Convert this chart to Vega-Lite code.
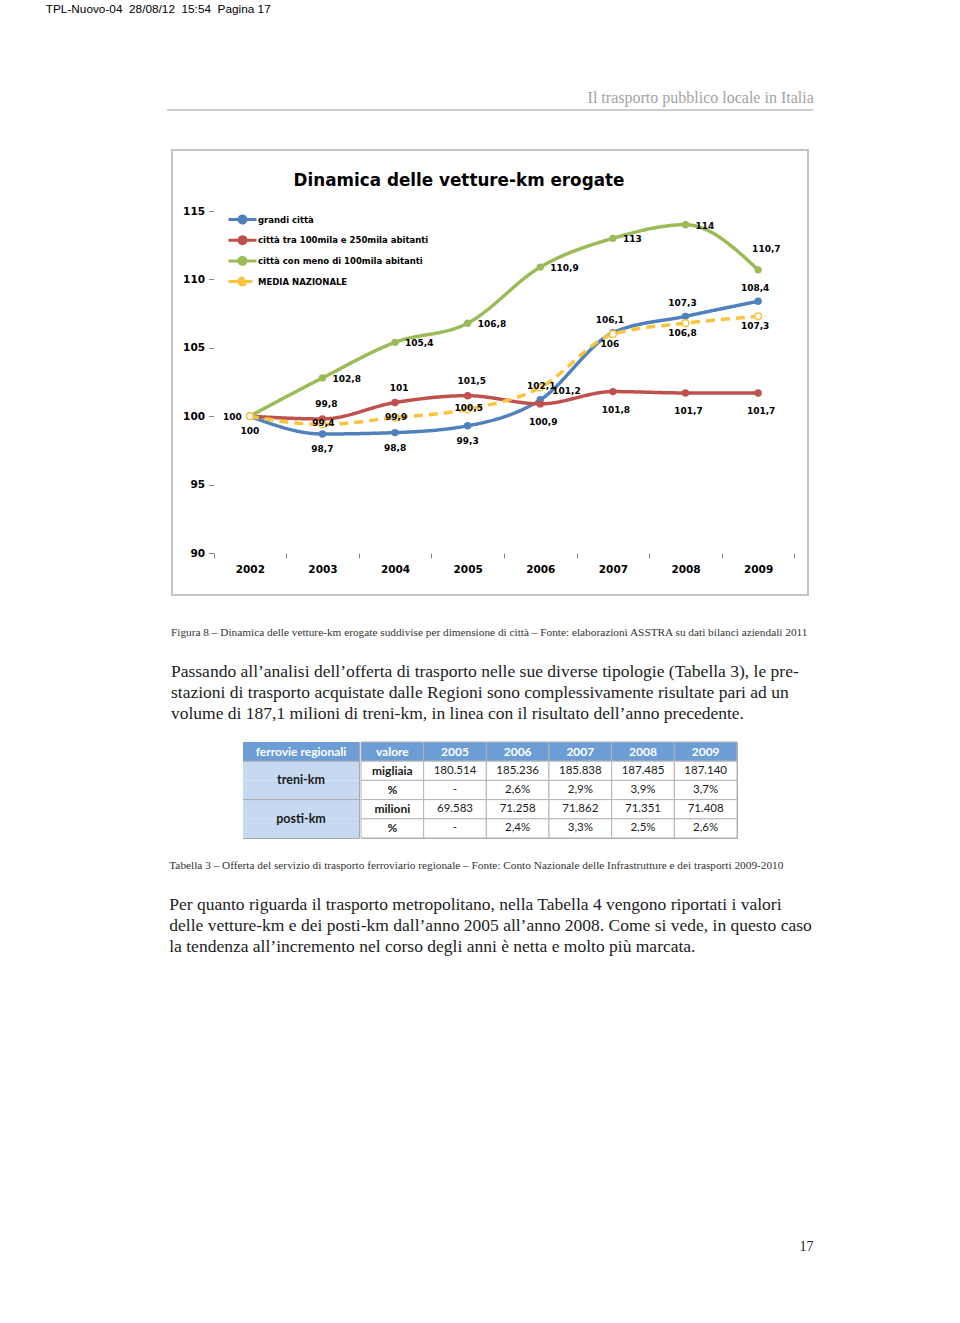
{
  "$schema": "https://vega.github.io/schema/vega-lite/v6.json",
  "background": "white",
  "padding": {"left": 45, "top": 3, "right": 0, "bottom": 0},
  "title": {"text": "TPL-Nuovo-04\u00a0\u00a028/08/12\u00a0\u00a015:54\u00a0\u00a0Pagina 17", "anchor": "start", "dx": -121, "offset": 74, "font": "Liberation Sans", "fontSize": 11.8, "fontWeight": "normal", "color": "#000000"},
  "spacing": 18,
  "center": true,
  "vconcat": [
    {
      "width": 646,
      "height": 21,
      "title": {"text": "Il trasporto pubblico locale in Italia", "orient": "top", "anchor": "end", "offset": 4, "font": "Liberation Serif", "fontSize": 16, "fontWeight": "normal", "color": "#a3a3a3"},
      "data": {"values": [{}]},
      "mark": {"type": "rule", "color": "#9a9a9a", "strokeWidth": 1},
      "encoding": {"y": {"datum": 1, "type": "quantitative", "scale": {"domain": [0, 1]}, "axis": null}}
    },
    {
      "title": {
        "text": "Figura 8 – Dinamica delle vetture-km erogate suddivise per dimensione di città – Fonte: elaborazioni ASSTRA su dati bilanci aziendali 2011",
        "subtitle": [
          "Passando all’analisi dell’offerta di trasporto nelle sue diverse tipologie (Tabella 3), le pre-",
          "stazioni di trasporto acquistate dalle Regioni sono complessivamente risultate pari ad un",
          "volume di 187,1 milioni di treni-km, in linea con il risultato dell’anno precedente."
        ],
        "orient": "bottom", "anchor": "start", "offset": 30.5,
        "font": "Liberation Serif", "fontSize": 11.3, "fontWeight": "normal", "color": "#333333",
        "subtitleFont": "Liberation Serif", "subtitleFontSize": 17.5, "subtitleColor": "#222222", "subtitleLineHeight": 21, "subtitlePadding": 25
      },
      "vconcat": [
        {
          "width": 636,
          "height": 445,
          "view": {"stroke": "#c4c4c4", "strokeWidth": 2},
          "title": {"text": "Dinamica delle vetture-km erogate", "orient": "top", "anchor": "middle", "offset": -40, "dx": -31, "font": "DejaVu Sans", "fontSize": 16.8, "fontWeight": "bold", "color": "#000000"},
          "data": {"values": [
            {"year": 2002, "series": "grandi città", "value": 100},
            {"year": 2003, "series": "grandi città", "value": 98.7},
            {"year": 2004, "series": "grandi città", "value": 98.8},
            {"year": 2005, "series": "grandi città", "value": 99.3},
            {"year": 2006, "series": "grandi città", "value": 101.2},
            {"year": 2007, "series": "grandi città", "value": 106.1},
            {"year": 2008, "series": "grandi città", "value": 107.3},
            {"year": 2009, "series": "grandi città", "value": 108.4},
            {"year": 2002, "series": "città tra 100mila e 250mila abitanti", "value": 100},
            {"year": 2003, "series": "città tra 100mila e 250mila abitanti", "value": 99.8},
            {"year": 2004, "series": "città tra 100mila e 250mila abitanti", "value": 101},
            {"year": 2005, "series": "città tra 100mila e 250mila abitanti", "value": 101.5},
            {"year": 2006, "series": "città tra 100mila e 250mila abitanti", "value": 100.9},
            {"year": 2007, "series": "città tra 100mila e 250mila abitanti", "value": 101.8},
            {"year": 2008, "series": "città tra 100mila e 250mila abitanti", "value": 101.7},
            {"year": 2009, "series": "città tra 100mila e 250mila abitanti", "value": 101.7},
            {"year": 2002, "series": "città con meno di 100mila abitanti", "value": 100},
            {"year": 2003, "series": "città con meno di 100mila abitanti", "value": 102.8},
            {"year": 2004, "series": "città con meno di 100mila abitanti", "value": 105.4},
            {"year": 2005, "series": "città con meno di 100mila abitanti", "value": 106.8},
            {"year": 2006, "series": "città con meno di 100mila abitanti", "value": 110.9},
            {"year": 2007, "series": "città con meno di 100mila abitanti", "value": 113},
            {"year": 2008, "series": "città con meno di 100mila abitanti", "value": 114},
            {"year": 2009, "series": "città con meno di 100mila abitanti", "value": 110.7},
            {"year": 2002, "series": "MEDIA NAZIONALE", "value": 100},
            {"year": 2003, "series": "MEDIA NAZIONALE", "value": 99.4},
            {"year": 2004, "series": "MEDIA NAZIONALE", "value": 99.9},
            {"year": 2005, "series": "MEDIA NAZIONALE", "value": 100.5},
            {"year": 2006, "series": "MEDIA NAZIONALE", "value": 102.1},
            {"year": 2007, "series": "MEDIA NAZIONALE", "value": 106},
            {"year": 2008, "series": "MEDIA NAZIONALE", "value": 106.8},
            {"year": 2009, "series": "MEDIA NAZIONALE", "value": 107.3}
          ]},
          "encoding": {
            "x": {"field": "year", "type": "quantitative", "scale": {"domain": [2000.928, 2009.687], "nice": false, "zero": false},
              "axis": {"title": null, "values": [2001.5, 2002.5, 2003.5, 2004.5, 2005.5, 2006.5, 2007.5, 2008.5, 2009.5], "labelExpr": "datum.value > 2009 ? '' : format(datum.value + 0.5, 'd')", "labelOffset": {"condition": {"test": "datum.value > 2009", "value": 0}, "value": 36.3}, "offset": -42, "domain": false, "grid": false, "tickSize": 5, "tickColor": "#888888", "labelPadding": 6, "labelFont": "DejaVu Sans", "labelFontWeight": "bold", "labelFontSize": 10.5, "labelColor": "#000000", "labelBound": false, "labelFlush": false, "labelOverlap": false}},
            "y": {"field": "value", "type": "quantitative", "scale": {"domain": [86.93, 119.46], "nice": false, "zero": false},
              "axis": {"title": null, "values": [90, 95, 100, 105, 110, 115], "offset": -41.5, "domain": false, "grid": false, "tickSize": 5, "tickColor": "#888888", "labelPadding": 4, "labelFont": "DejaVu Sans", "labelFontWeight": "bold", "labelFontSize": 10.5, "labelColor": "#000000"}}
          },
          "layer": [
            {"data": {"values": [{}]}, "mark": {"type": "rule", "color": "#888888", "strokeWidth": 1},
              "encoding": {"x": {"datum": 2001.5, "type": "quantitative"}, "y": {"datum": 90, "type": "quantitative"}, "y2": {"datum": 115}}},
            {"data": {"values": [{}]}, "mark": {"type": "rule", "color": "#888888", "strokeWidth": 1},
              "encoding": {"y": {"datum": 90, "type": "quantitative"}, "x": {"datum": 2001.5, "type": "quantitative"}, "x2": {"datum": 2009.5}}},
            {"mark": {"type": "line", "interpolate": "monotone", "strokeWidth": 3.5},
              "encoding": {
                "color": {"field": "series", "type": "nominal",
                  "scale": {"domain": ["grandi città", "città tra 100mila e 250mila abitanti", "città con meno di 100mila abitanti", "MEDIA NAZIONALE"], "range": ["#4f81bd", "#c0504d", "#9bbb59", "#fac33c"]},
                  "legend": {"orient": "none", "legendX": 67, "legendY": 101, "title": null, "symbolType": "M-2,0L2,0M-0.5,0a0.5,0.5 0 1,0 1,0a0.5,0.5 0 1,0 -1,0", "symbolSize": 196, "symbolStrokeWidth": 3, "labelFont": "DejaVu Sans", "labelFontWeight": "bold", "labelFontSize": 8.5, "labelColor": "#000000", "labelOffset": 7, "rowPadding": 1.7, "labelLimit": 300,
                    "encode": {"symbols": {"update": {"fill": {"signal": "datum.value === 'MEDIA NAZIONALE' ? '#ffffff' : scale('color', datum.value)"}}}}},
                  "sort": null},
                "strokeDash": {"field": "series", "type": "nominal",
                  "scale": {"domain": ["grandi città", "città tra 100mila e 250mila abitanti", "città con meno di 100mila abitanti", "MEDIA NAZIONALE"], "range": [[1, 0], [1, 0], [1, 0], [9, 6]]},
                  "legend": {"orient": "none", "legendX": 67, "legendY": 101, "title": null, "symbolType": "M-2,0L2,0M-0.5,0a0.5,0.5 0 1,0 1,0a0.5,0.5 0 1,0 -1,0", "symbolSize": 196, "symbolStrokeWidth": 3, "labelFont": "DejaVu Sans", "labelFontWeight": "bold", "labelFontSize": 8.5, "labelColor": "#000000", "labelOffset": 7, "rowPadding": 1.7, "labelLimit": 300,
                    "encode": {"symbols": {"update": {"fill": {"signal": "datum.value === 'MEDIA NAZIONALE' ? '#ffffff' : scale('color', datum.value)"}}}}}}
              }},
            {"transform": [{"filter": "datum.series !== 'MEDIA NAZIONALE'"}],
              "mark": {"type": "point", "filled": true, "size": 55, "opacity": 1},
              "encoding": {"color": {"field": "series", "type": "nominal"}}},
            {"transform": [{"filter": "datum.series === 'MEDIA NAZIONALE'"}],
              "mark": {"type": "point", "filled": true, "size": 45, "opacity": 1, "fill": "#ffffff", "stroke": "#fac33c", "strokeWidth": 1.5}},
            {"transform": [{"filter": "datum.series === 'città con meno di 100mila abitanti' && datum.year >= 2003 && datum.year <= 2008"}],
              "mark": {"type": "text", "align": "left", "dx": 10, "dy": 1, "font": "DejaVu Sans", "fontWeight": "bold", "fontSize": 9, "color": "#000000"},
              "encoding": {"text": {"field": "value", "type": "quantitative", "format": "~r"}}},
            {"transform": [{"filter": "datum.series === 'città con meno di 100mila abitanti' && datum.year === 2009"}],
              "mark": {"type": "text", "align": "left", "dx": -6, "dy": -21, "font": "DejaVu Sans", "fontWeight": "bold", "fontSize": 9, "color": "#000000"},
              "encoding": {"text": {"field": "value", "type": "quantitative", "format": "~r"}}},
            {"transform": [{"filter": "datum.series === 'grandi città' && datum.year <= 2005"}],
              "mark": {"type": "text", "align": "center", "dy": 15, "font": "DejaVu Sans", "fontWeight": "bold", "fontSize": 9, "color": "#000000"},
              "encoding": {"text": {"field": "value", "type": "quantitative", "format": "~r"}}},
            {"transform": [{"filter": "datum.series === 'grandi città' && datum.year === 2006"}],
              "mark": {"type": "text", "align": "left", "dx": 12, "dy": -9, "font": "DejaVu Sans", "fontWeight": "bold", "fontSize": 9, "color": "#000000"},
              "encoding": {"text": {"field": "value", "type": "quantitative", "format": "~r"}}},
            {"transform": [{"filter": "datum.series === 'grandi città' && datum.year >= 2007"}],
              "mark": {"type": "text", "align": "center", "dx": -3, "dy": -13, "font": "DejaVu Sans", "fontWeight": "bold", "fontSize": 9, "color": "#000000"},
              "encoding": {"text": {"field": "value", "type": "quantitative", "format": "~r"}}},
            {"transform": [{"filter": "datum.series === 'città tra 100mila e 250mila abitanti' && datum.year === 2002"}],
              "mark": {"type": "text", "align": "right", "dx": -8, "dy": 1, "font": "DejaVu Sans", "fontWeight": "bold", "fontSize": 9, "color": "#000000"},
              "encoding": {"text": {"field": "value", "type": "quantitative", "format": "~r"}}},
            {"transform": [{"filter": "datum.series === 'città tra 100mila e 250mila abitanti' && datum.year >= 2003 && datum.year <= 2005"}],
              "mark": {"type": "text", "align": "center", "dx": 4, "dy": -15, "font": "DejaVu Sans", "fontWeight": "bold", "fontSize": 9, "color": "#000000"},
              "encoding": {"text": {"field": "value", "type": "quantitative", "format": "~r"}}},
            {"transform": [{"filter": "datum.series === 'città tra 100mila e 250mila abitanti' && datum.year >= 2006"}],
              "mark": {"type": "text", "align": "center", "dx": 3, "dy": 18, "font": "DejaVu Sans", "fontWeight": "bold", "fontSize": 9, "color": "#000000"},
              "encoding": {"text": {"field": "value", "type": "quantitative", "format": "~r"}}},
            {"transform": [{"filter": "datum.series === 'MEDIA NAZIONALE' && datum.year >= 2003 && datum.year <= 2006"}],
              "mark": {"type": "text", "align": "center", "dx": 1, "dy": -1, "font": "DejaVu Sans", "fontWeight": "bold", "fontSize": 9, "color": "#000000"},
              "encoding": {"text": {"field": "value", "type": "quantitative", "format": "~r"}}},
            {"transform": [{"filter": "datum.series === 'MEDIA NAZIONALE' && datum.year >= 2007"}],
              "mark": {"type": "text", "align": "center", "dx": -3, "dy": 10, "font": "DejaVu Sans", "fontWeight": "bold", "fontSize": 9, "color": "#000000"},
              "encoding": {"text": {"field": "value", "type": "quantitative", "format": "~r"}}}
          ]
        }
      ]
    },
    {
      "spacing": 0,
      "resolve": {"scale": {"fill": "independent"}},
      "hconcat": [
        {
          "width": 116,
          "height": 96,
          "view": {"stroke": "#a8a8a8"},
          "layer": [
            {"data": {"values": [{"row": "h", "part": "intestazione"}, {"row": "r1", "part": "voce"}, {"row": "r2", "part": "voce"}, {"row": "r3", "part": "voce"}, {"row": "r4", "part": "voce"}]},
              "mark": {"type": "rect"},
              "encoding": {
                "y": {"field": "row", "type": "nominal", "scale": {"domain": ["h", "r1", "r2", "r3", "r4"], "paddingInner": 0, "paddingOuter": 0}, "axis": null},
                "fill": {"field": "part", "type": "nominal", "scale": {"domain": ["intestazione", "voce"], "range": ["#6d9dd5", "#c6d9f1"]}, "legend": null}}},
            {"data": {"values": [{"row": "r1"}, {"row": "r3"}]},
              "mark": {"type": "rule", "color": "#a8a8a8"},
              "encoding": {"y": {"field": "row", "type": "nominal", "bandPosition": 0}}},
            {"data": {"values": [{"row": "h", "label": "ferrovie regionali"}]},
              "mark": {"type": "text", "font": "Lato", "fontWeight": "bold", "fontSize": 12, "color": "#ffffff"},
              "encoding": {"y": {"field": "row", "type": "nominal"}, "text": {"field": "label"}}},
            {"data": {"values": [{"row": "r1", "label": "treni-km"}, {"row": "r3", "label": "posti-km"}]},
              "mark": {"type": "text", "font": "Lato", "fontWeight": "bold", "fontSize": 12.5, "color": "#1a1a1a"},
              "encoding": {"y": {"field": "row", "type": "nominal", "bandPosition": 1}, "text": {"field": "label"}}}
          ]
        },
        {
          "width": 376,
          "height": 96,
          "view": {"stroke": "#a8a8a8"},
          "data": {"values": [
            {"row": "h", "col": "valore", "part": "intestazione", "text": "valore"},
            {"row": "h", "col": "2005", "part": "intestazione", "text": "2005"},
            {"row": "h", "col": "2006", "part": "intestazione", "text": "2006"},
            {"row": "h", "col": "2007", "part": "intestazione", "text": "2007"},
            {"row": "h", "col": "2008", "part": "intestazione", "text": "2008"},
            {"row": "h", "col": "2009", "part": "intestazione", "text": "2009"},
            {"row": "r1", "col": "valore", "part": "unità", "text": "migliaia"},
            {"row": "r1", "col": "2005", "part": "dato", "text": "180.514"},
            {"row": "r1", "col": "2006", "part": "dato", "text": "185.236"},
            {"row": "r1", "col": "2007", "part": "dato", "text": "185.838"},
            {"row": "r1", "col": "2008", "part": "dato", "text": "187.485"},
            {"row": "r1", "col": "2009", "part": "dato", "text": "187.140"},
            {"row": "r2", "col": "valore", "part": "unità", "text": "%"},
            {"row": "r2", "col": "2005", "part": "dato", "text": "-"},
            {"row": "r2", "col": "2006", "part": "dato", "text": "2,6%"},
            {"row": "r2", "col": "2007", "part": "dato", "text": "2,9%"},
            {"row": "r2", "col": "2008", "part": "dato", "text": "3,9%"},
            {"row": "r2", "col": "2009", "part": "dato", "text": "3,7%"},
            {"row": "r3", "col": "valore", "part": "unità", "text": "milioni"},
            {"row": "r3", "col": "2005", "part": "dato", "text": "69.583"},
            {"row": "r3", "col": "2006", "part": "dato", "text": "71.258"},
            {"row": "r3", "col": "2007", "part": "dato", "text": "71.862"},
            {"row": "r3", "col": "2008", "part": "dato", "text": "71.351"},
            {"row": "r3", "col": "2009", "part": "dato", "text": "71.408"},
            {"row": "r4", "col": "valore", "part": "unità", "text": "%"},
            {"row": "r4", "col": "2005", "part": "dato", "text": "-"},
            {"row": "r4", "col": "2006", "part": "dato", "text": "2,4%"},
            {"row": "r4", "col": "2007", "part": "dato", "text": "3,3%"},
            {"row": "r4", "col": "2008", "part": "dato", "text": "2,5%"},
            {"row": "r4", "col": "2009", "part": "dato", "text": "2,6%"}
          ]},
          "encoding": {
            "x": {"field": "col", "type": "nominal", "scale": {"domain": ["valore", "2005", "2006", "2007", "2008", "2009"], "paddingInner": 0, "paddingOuter": 0}, "axis": null},
            "y": {"field": "row", "type": "nominal", "scale": {"domain": ["h", "r1", "r2", "r3", "r4"], "paddingInner": 0, "paddingOuter": 0}, "axis": null}
          },
          "layer": [
            {"mark": {"type": "rect", "stroke": "#b4b4b4", "strokeWidth": 1},
              "encoding": {"fill": {"field": "part", "type": "nominal", "scale": {"domain": ["intestazione", "unità", "dato"], "range": ["#6d9dd5", "#ffffff", "#ffffff"]}, "legend": null}}},
            {"transform": [{"filter": "datum.part === 'intestazione'"}],
              "mark": {"type": "text", "font": "Lato", "fontWeight": "bold", "fontSize": 12, "color": "#ffffff"},
              "encoding": {"text": {"field": "text"}}},
            {"transform": [{"filter": "datum.part === 'unità'"}],
              "mark": {"type": "text", "font": "Lato", "fontWeight": "bold", "fontSize": 12, "color": "#1a1a1a"},
              "encoding": {"text": {"field": "text"}}},
            {"transform": [{"filter": "datum.part === 'dato'"}],
              "mark": {"type": "text", "font": "Lato", "fontWeight": "normal", "fontSize": 11.5, "color": "#1a1a1a"},
              "encoding": {"text": {"field": "text"}}}
          ]
        }
      ]
    },
    {
      "width": 640,
      "height": 3,
      "title": {
        "text": "Tabella 3 – Offerta del servizio di trasporto ferroviario regionale – Fonte: Conto Nazionale delle Infrastrutture e dei trasporti 2009-2010",
        "subtitle": [
          "Per quanto riguarda il trasporto metropolitano, nella Tabella 4 vengono riportati i valori",
          "delle vetture-km e dei posti-km dall’anno 2005 all’anno 2008. Come si vede, in questo caso",
          "la tendenza all’incremento nel corso degli anni è netta e molto più marcata."
        ],
        "orient": "bottom", "anchor": "start", "offset": 0,
        "font": "Liberation Serif", "fontSize": 11.3, "fontWeight": "normal", "color": "#333333",
        "subtitleFont": "Liberation Serif", "subtitleFontSize": 17.5, "subtitleColor": "#222222", "subtitleLineHeight": 21, "subtitlePadding": 25
      },
      "data": {"values": []},
      "mark": {"type": "rule"},
      "encoding": {}
    },
    {
      "width": 646,
      "height": 266,
      "title": {"text": "17", "orient": "bottom", "anchor": "end", "offset": 0, "font": "Liberation Serif", "fontSize": 14, "fontWeight": "normal", "color": "#222222"},
      "data": {"values": []},
      "mark": {"type": "rule"},
      "encoding": {}
    }
  ],
  "config": {
    "view": {"stroke": null},
    "locale": {"number": {"decimal": ",", "thousands": ".", "grouping": [3], "currency": ["€", ""]}}
  }
}
